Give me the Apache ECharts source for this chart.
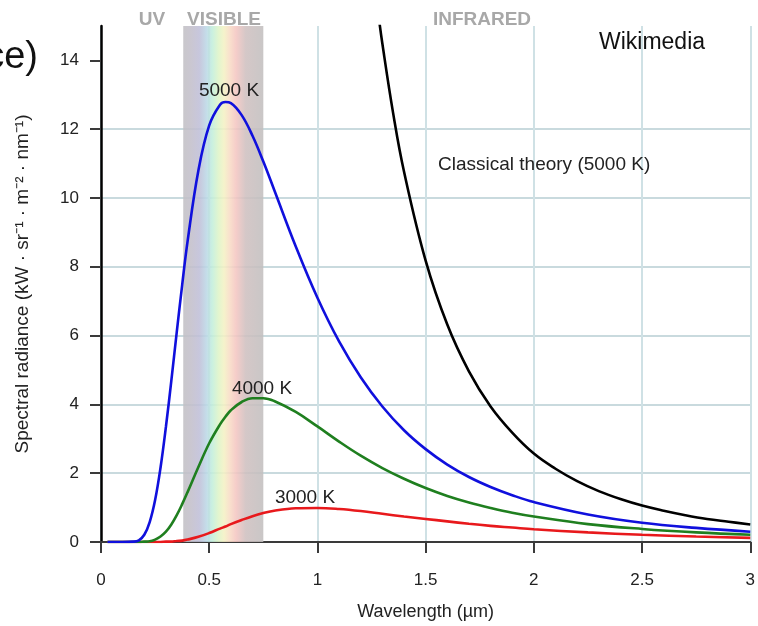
<!DOCTYPE html>
<html>
<head>
<meta charset="utf-8">
<script src="https://cdn.jsdelivr.net/npm/echarts@6/dist/echarts.min.js"></script>
<style>
  html, body { margin: 0; padding: 0; background: #fff; }
  #chart { width: 758px; height: 626px; }
</style>
</head>
<body>
<div id="chart"></div>
<script>
// Black-body spectral radiance, kW · sr⁻¹ · m⁻² · nm⁻¹, against wavelength in µm
const wavelengths = [0.03, 0.1, 0.15, 0.175, 0.2, 0.225, 0.25, 0.275, 0.3, 0.325, 0.35, 0.375,
  0.4, 0.45, 0.5, 0.55, 0.575, 0.6, 0.65, 0.7, 0.75, 0.8, 0.9, 1.0, 1.1, 1.2, 1.3, 1.4, 1.5,
  1.6, 1.7, 1.8, 1.9, 2.0, 2.25, 2.5, 2.75, 3.0];
const radiance5000 = [0, 0, 0.01, 0.05, 0.21, 0.58, 1.22, 2.16, 3.35, 4.69, 6.10, 7.47,
  8.74, 10.80, 12.11, 12.71, 12.79, 12.76, 12.41, 11.81, 11.06, 10.24, 8.59, 7.10, 5.83, 4.79, 3.94, 3.25, 2.70,
  2.25, 1.89, 1.60, 1.36, 1.16, 0.80, 0.56, 0.41, 0.30];
const radiance4000 = [0, 0, 0, 0, 0.01, 0.02, 0.07, 0.16, 0.30, 0.51, 0.78, 1.10,
  1.45, 2.18, 2.87, 3.42, 3.64, 3.83, 4.07, 4.18, 4.18, 4.10, 3.78, 3.36, 2.92, 2.51, 2.15, 1.84, 1.57,
  1.34, 1.15, 0.99, 0.85, 0.74, 0.52, 0.38, 0.28, 0.21];
const radiance3000 = [0, 0, 0, 0, 0, 0, 0, 0, 0.01, 0.01, 0.03, 0.04,
  0.07, 0.15, 0.26, 0.39, 0.45, 0.52, 0.64, 0.75, 0.84, 0.91, 0.98, 0.99, 0.96, 0.90, 0.82, 0.74, 0.67,
  0.60, 0.53, 0.47, 0.42, 0.37, 0.28, 0.21, 0.16, 0.12];

// Rayleigh–Jeans prediction at 5000 K (runs off the top of the plot)
const classicalWavelengths = [1.28, 1.3, 1.35, 1.4, 1.5, 1.6, 1.7, 1.8, 1.9, 2.0, 2.1, 2.2, 2.3,
  2.4, 2.5, 2.6, 2.7, 2.8, 2.9, 3.0];
const classical5000 = [15.42, 14.49, 12.46, 10.77, 8.18, 6.32, 4.96, 3.94, 3.18, 2.57, 2.13, 1.77, 1.48,
  1.25, 1.06, 0.91, 0.78, 0.67, 0.59, 0.51];

const visibleBand = [0.38, 0.75];
const yTickValues = [0, 2, 4, 6, 8, 10, 12, 14];

const FONT = '"Liberation Sans", Arial, sans-serif';
const pair = (xs, ys) => xs.map((x, i) => [x, ys[i]]);

const chart = echarts.init(document.getElementById('chart'), null, { renderer: 'canvas' });

const curve = (name, xs, ys, color, extra) => Object.assign({
  type: 'line',
  name: name,
  data: pair(xs, ys),
  showSymbol: false,
  smooth: 0.4,
  clip: true,
  lineStyle: { color: color, width: 2.6 },
  emphasis: { disabled: true }
}, extra || {});

const option = {
  animation: false,
  backgroundColor: '#fff',
  textStyle: { fontFamily: FONT },
  grid: { left: 101, right: 6, top: 26, bottom: 80 },
  xAxis: {
    type: 'value', min: 0, max: 3, interval: 0.5,
    name: 'Wavelength (µm)', nameLocation: 'middle', nameGap: 61,
    nameTextStyle: { fontSize: 18, color: '#222', fontFamily: FONT },
    axisLine: { onZero: false, lineStyle: { color: '#3a3a3a', width: 2 } },
    axisTick: { length: 11, lineStyle: { color: '#3a3a3a', width: 2 } },
    axisLabel: { fontSize: 17, color: '#222', margin: 30, fontFamily: FONT },
    splitLine: { show: true, lineStyle: { color: '#cfe1e5', width: 2 } }
  },
  yAxis: {
    type: 'value', min: 0, max: 15, interval: 2,
    name: 'Spectral radiance (kW · sr⁻¹ · m⁻² · nm⁻¹)', nameLocation: 'middle', nameGap: 69,
    nameTextStyle: { fontSize: 19, color: '#222', fontFamily: FONT },
    axisLine: { show: true, lineStyle: { color: '#000', width: 2.5 } },
    axisTick: { show: true, length: 11, customValues: yTickValues, lineStyle: { color: '#3a3a3a', width: 2 } },
    axisLabel: { fontSize: 17, color: '#222', margin: 22, customValues: yTickValues, fontFamily: FONT },
    splitLine: { show: true, showMaxLine: false, lineStyle: { color: '#c9dade', width: 2 } }
  },
  series: [
    curve('Classical theory (5000 K)', classicalWavelengths, classical5000, '#000000', { z: 2 }),
    curve('3000 K', wavelengths, radiance3000, '#e8191c', {
      z: 3,
      markArea: {
        silent: true,
        z: 1,
        itemStyle: {
          opacity: 0.88,
          color: {
            type: 'linear', x: 0, y: 0, x2: 1, y2: 0,
            colorStops: [
              { offset: 0.00, color: '#c2c0c4' },
              { offset: 0.10, color: '#c3bfcb' },
              { offset: 0.20, color: '#c0bfd8' },
              { offset: 0.29, color: '#bcd8e6' },
              { offset: 0.36, color: '#c2eedc' },
              { offset: 0.44, color: '#def4c8' },
              { offset: 0.51, color: '#f4f1c4' },
              { offset: 0.58, color: '#f8dcc6' },
              { offset: 0.66, color: '#f4c6c2' },
              { offset: 0.78, color: '#cfc0c0' },
              { offset: 1.00, color: '#c2bfbf' }
            ]
          }
        },
        data: [[{ xAxis: visibleBand[0], yAxis: 0 }, { xAxis: visibleBand[1], yAxis: 15 }]]
      }
    }),
    curve('4000 K', wavelengths, radiance4000, '#1f7f1f', { z: 4 }),
    curve('5000 K', wavelengths, radiance5000, '#1010dd', { z: 5 })
  ],
  graphic: [
    { type: 'text', x: 152, y: 20, style: { text: 'UV', fontSize: 19, fontWeight: 'bold', fontFamily: FONT, fill: '#a8a8a8', align: 'center', verticalAlign: 'middle' } },
    { type: 'text', x: 224, y: 20, style: { text: 'VISIBLE', fontSize: 19, fontWeight: 'bold', fontFamily: FONT, fill: '#a8a8a8', align: 'center', verticalAlign: 'middle' } },
    { type: 'text', x: 482, y: 20, style: { text: 'INFRARED', fontSize: 19, fontWeight: 'bold', fontFamily: FONT, fill: '#a8a8a8', align: 'center', verticalAlign: 'middle' } },
    { type: 'text', x: 652, y: 43, style: { text: 'Wikimedia', fontSize: 23, fontFamily: FONT, fill: '#111', align: 'center', verticalAlign: 'middle' } },
    { type: 'text', x: 38, y: 58, style: { text: 'ce)', fontSize: 38, fontFamily: FONT, fill: '#111', align: 'right', verticalAlign: 'middle' } },
    { type: 'text', x: 229, y: 91, z: 10, style: { text: '5000 K', fontSize: 19, fontFamily: FONT, fill: '#222', align: 'center', verticalAlign: 'middle' } },
    { type: 'text', x: 262, y: 389, z: 10, style: { text: '4000 K', fontSize: 19, fontFamily: FONT, fill: '#222', align: 'center', verticalAlign: 'middle' } },
    { type: 'text', x: 305, y: 498, z: 10, style: { text: '3000 K', fontSize: 19, fontFamily: FONT, fill: '#222', align: 'center', verticalAlign: 'middle' } },
    { type: 'text', x: 438, y: 165, z: 10, style: { text: 'Classical theory (5000 K)', fontSize: 19, fontFamily: FONT, fill: '#222', align: 'left', verticalAlign: 'middle' } }
  ]
};

chart.setOption(option);
</script>
</body>
</html>
